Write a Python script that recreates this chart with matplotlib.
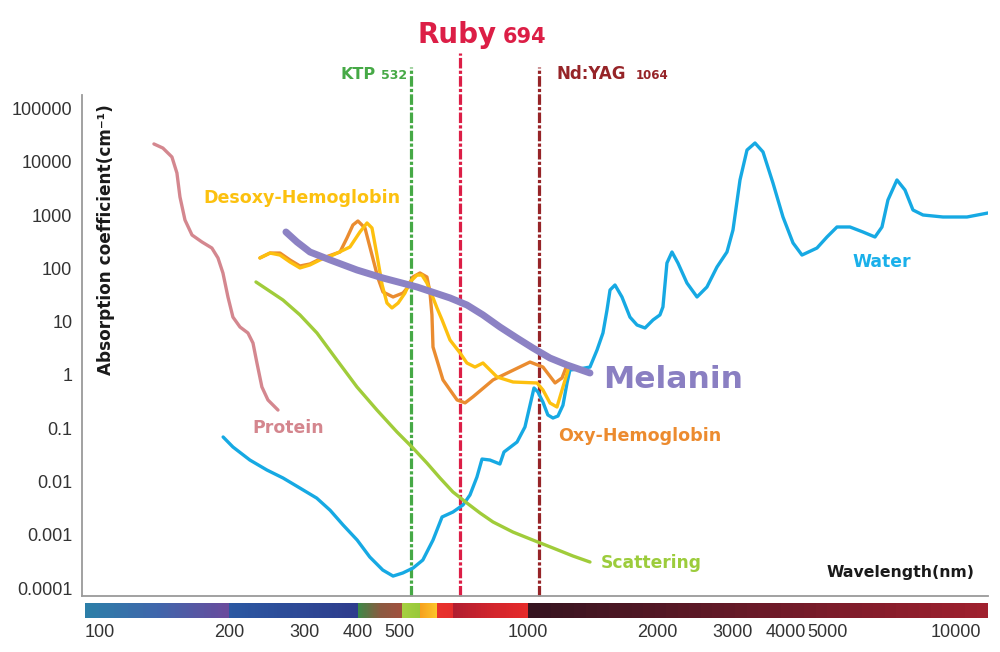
import numpy as np
import matplotlib
matplotlib.use("Agg")
import matplotlib.pyplot as plt
from matplotlib.ticker import NullLocator
from matplotlib.colors import to_rgb

# absorption spectra: wavelength (nm) / coefficient (1/cm)
water_wl = [194, 204.5, 224, 245.5, 267.7, 293, 321, 345, 370, 399, 427, 458, 484, 510, 539,
            568, 600, 630, 668, 705, 732, 760, 781, 815, 860, 879, 943, 984, 1011, 1033, 1055,
            1084, 1113, 1144, 1175, 1207, 1234, 1253, 1320, 1396, 1450, 1497, 1530, 1555,
            1597, 1658, 1731, 1798, 1877, 1960, 2034, 2067, 2112, 2170, 2241, 2352, 2483,
            2619, 2764, 2917, 3013, 3129, 3249, 3392, 3541, 3736, 3943, 4162, 4367, 4734,
            4995, 5272, 5654, 6063, 6468, 6716, 6935, 7279, 7600, 7934, 8374, 9325, 10610,
            11880]
water_mu = [0.0687, 0.0446, 0.0254, 0.0165, 0.0117, 0.0076, 0.0049, 0.0029, 0.00153, 0.0008,
            0.000385, 0.000219, 0.000169, 0.000193, 0.000239, 0.000338, 0.0008, 0.00217,
            0.00269, 0.00364, 0.00561, 0.0122, 0.0265, 0.0254, 0.0214, 0.0359, 0.0553, 0.106,
            0.27, 0.57, 0.48, 0.31, 0.178, 0.156, 0.17, 0.27, 0.71, 1.24, 1.3, 1.41, 2.94,
            6.14, 16.6, 39.3, 48.8, 29.1, 12.2, 8.67, 7.62, 10.8, 13.4, 18.9, 126, 203, 126,
            53.2, 29.1, 44.8, 106, 203, 525, 4560, 16600, 22500, 15300, 4000, 921, 300, 178,
            241, 388, 598, 598, 482, 388, 598, 1920, 4560, 2960, 1247, 1004, 921, 921, 1095]

protein_wl = [133.7, 140.3, 147.3, 151.3, 153.8, 158, 164.1, 173.1, 182.6, 188.7, 193.8,
              199.1, 204.5, 212.4, 221.7, 227.8, 232.7, 239, 246.9, 260.6]
protein_mu = [21600, 18100, 12300, 6170, 2190, 809, 423, 313, 241, 157, 82, 29.1, 12.2,
              7.96, 6.14, 3.98, 1.68, 0.596, 0.34, 0.22]

scatter_wl = [231.5, 267.7, 293.3, 321.4, 357.8, 398.6, 443.8, 494.3, 538.6, 580.7, 622.9,
              668, 720, 772.5, 828.5, 922.6, 1027, 1144, 1274, 1396]
scatter_mu = [55.6, 25.5, 13.4, 6.14, 1.91, 0.596, 0.22, 0.0853, 0.0427, 0.0223, 0.0117,
              0.00638, 0.00397, 0.00258, 0.00175, 0.00113, 0.0008, 0.000568, 0.000402, 0.00031]

melanin_wl = [272, 288.6, 309.5, 345, 398.6, 458.4, 550.5, 657.4, 720, 785, 860, 942.6,
              1027, 1126, 1234, 1396]
melanin_mu = [482, 313, 203, 144, 93.3, 66, 44.8, 27.9, 20.6, 13.4, 7.96, 4.94, 3.21, 2.08,
              1.54, 1.09]

oxy_wl = [236.5, 249.6, 263.4, 277.9, 293.3, 309.5, 326.6, 363.8, 377.7, 390, 400.6, 416.1,
          432.1, 446.2, 458.4, 484, 510.5, 524.6, 538.6, 559.3, 580.7, 590.2, 596.6, 600,
          633, 683, 713, 744, 829, 1011, 1084, 1157, 1201, 1234]
oxy_mu = [157, 194, 194, 144, 111, 121, 150, 203, 372, 652, 775, 573, 178, 66, 36.1, 29.1,
          34.5, 44.8, 69, 82, 69, 36.1, 13.4, 3.35, 0.81, 0.34, 0.30, 0.39, 0.81, 1.75, 1.41,
          0.71, 0.88, 1.54]

desoxy_wl = [236.5, 249.6, 263.4, 277.9, 293.3, 309.5, 326.6, 350.4, 383.8, 405, 420.7, 432.1,
             443.8, 456.4, 468.4, 481.1, 497.4, 516, 530.2, 550.5, 565.3, 580.7, 596.6, 613,
             630, 657.4, 694, 720, 752, 785, 847, 923, 1050, 1084, 1126, 1169, 1207, 1241]
desoxy_mu = [157, 194, 178, 132, 102, 116, 144, 178, 252, 482, 711, 573, 178, 48.8, 22.4, 18.1,
             22.4, 34.5, 55.6, 75, 75, 53.2, 31.7, 18.1, 10.8, 4.54, 2.59, 1.68, 1.41, 1.68,
             0.917, 0.739, 0.708, 0.523, 0.298, 0.251, 0.596, 1.24]

lasers = [("KTP", "532", 532, "#46a946"), ("Ruby", "694", 694, "#dc1e46"),
          ("Nd:YAG", "1064", 1064, "#962428")]

y_ticks = [1e-4, 1e-3, 1e-2, 1e-1, 1, 10, 100, 1000, 10000, 100000]
y_labels = ["0.0001", "0.001", "0.01", "0.1", "1", "10", "100", "1000", "10000", "100000"]
bar_ticks = [100, 200, 300, 400, 500, 1000, 2000, 3000, 4000, 5000, 10000]

# spectrum strip under the axis: (from nm, to nm, colour stops)
bands = [
    (92.2, 200, ["#2b7fa8", "#3f66ab", "#6a4a9c"]),
    (200, 400, ["#2b58a2", "#2e3c8c"]),
    (400, 508, ["#3a8a48", "#8a5a40", "#a2503e"]),
    (508, 559, ["#a6d040", "#98c83a"]),
    (559, 613, ["#f6a01e", "#fcc62a"]),
    (613, 669, ["#e8322c", "#e62e2c"]),
    (669, 1000, ["#b01e30", "#d0242c", "#e62a2a"]),
    (1000, 11880, ["#351420", "#6a1a28", "#a0202e"]),
]

fig = plt.figure(figsize=(10, 6.52), dpi=100)
ax = fig.add_axes([0.082, 0.0859, 0.906, 0.7684])
ax.set_xscale("log")
ax.set_yscale("log")
ax.set_xlim(90.8, 11880)
ax.set_ylim(10 ** -4.146, 10 ** 5.253)

for name, num, wl, col in lasers:
    top = 1.084 if name == "Ruby" else 1.056
    ax.axvline(wl, 0, top, color=col, lw=2.3, ls=(0, (3.3, 0.7, 1, 0.7)),
               clip_on=False, zorder=1)

style = dict(lw=2.4, solid_capstyle="round", solid_joinstyle="round")
ax.plot(water_wl, water_mu, color="#16a9e3", zorder=3, **style)
ax.plot(scatter_wl, scatter_mu, color="#a0cc3a", zorder=3, **style)
ax.plot(protein_wl, protein_mu, color="#d4878f", zorder=3, **style)
ax.plot(oxy_wl, oxy_mu, color="#ea8c30", zorder=4, **style)
ax.plot(desoxy_wl, desoxy_mu, color="#fdc00f", zorder=4, **style)
ax.plot(melanin_wl, melanin_mu, color="#8c82c4", lw=5, solid_capstyle="round",
        solid_joinstyle="round", zorder=5)

for s in ["top", "right"]:
    ax.spines[s].set_visible(False)
for s in ["left", "bottom"]:
    ax.spines[s].set_color("#9a9a9a")
    ax.spines[s].set_linewidth(1.3)
ax.tick_params(axis="x", which="both", bottom=False, labelbottom=False)
ax.yaxis.set_minor_locator(NullLocator())
ax.set_yticks(y_ticks)
ax.set_yticklabels(y_labels, fontfamily="Liberation Sans", fontsize=13, color="#333333")
ax.tick_params(axis="y", length=0, pad=7)

# colour strip
cax = fig.add_axes([0.085, 0.0521, 0.903, 0.023])
cax.set_xscale("log")
cax.set_xlim(92.2, 11880)
cax.set_ylim(0, 1)
for lo, hi, stops in bands:
    edges = np.geomspace(lo, hi, 41)
    rgb = np.array([to_rgb(c) for c in stops])
    pos = np.linspace(0, 1, len(stops))
    for i in range(40):
        t = (i + 0.5) / 40
        c = [np.interp(t, pos, rgb[:, k]) for k in range(3)]
        cax.axvspan(edges[i], edges[i + 1], color=c, lw=0, antialiased=False)
for s in cax.spines.values():
    s.set_visible(False)
cax.set_yticks([])
cax.xaxis.set_minor_locator(NullLocator())
cax.set_xticks(bar_ticks)
cax.set_xticklabels([str(t) for t in bar_ticks], fontfamily="Liberation Sans",
                    fontsize=13, color="#333333")
cax.tick_params(axis="x", length=0, pad=4)


def label(x, y, s, **kw):
    # positions in pixels of the 1000x652 picture
    kw.setdefault("fontweight", "bold")
    fig.text(x / 1000, 1 - y / 652, s, va="baseline", **kw)


label(418, 43, "Ruby", color="#dc1e46", fontsize=20)
label(503, 43, "694", color="#dc1e46", fontsize=15)
label(341, 79, "KTP", color="#46a946", fontsize=11.5)
label(381, 79, "532", color="#46a946", fontsize=9)
label(557, 79, "Nd:YAG", color="#962428", fontsize=12)
label(636, 79, "1064", color="#962428", fontsize=8.5)

label(203, 203, "Desoxy-Hemoglobin", color="#fcc10f", fontsize=12.6)
label(252, 433, "Protein", color="#d4868e", fontsize=12.4)
label(852, 267, "Water", color="#1ab0ea", fontsize=12.4)
label(603, 388, "Melanin", color="#8a7fc2", fontsize=22.6)
label(558, 441, "Oxy-Hemoglobin", color="#ec8b2f", fontsize=12.6)
label(601, 568, "Scattering", color="#9ccc3c", fontsize=12.3)
label(827, 577, "Wavelength(nm)", color="#1a1a1a", fontsize=11.3)

fig.text(0.106, 1 - 240 / 652, "Absorption coefficient(cm⁻¹)", rotation=90,
         ha="center", va="center", fontsize=12.2, fontweight="bold", color="#1a1a1a")

fig.savefig("out.png", dpi=100)
